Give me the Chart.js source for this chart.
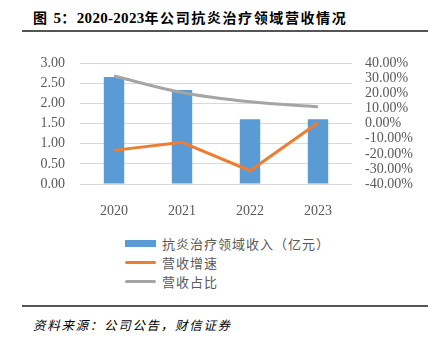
<!DOCTYPE html>
<html><head><meta charset="utf-8">
<script src="https://cdn.jsdelivr.net/npm/chart.js@4/dist/chart.umd.min.js"></script>
<style>
html,body{margin:0;padding:0;background:#fff;width:433px;height:341px;overflow:hidden;position:relative;font-family:"Noto Sans CJK SC",sans-serif;}
#title{position:absolute;left:33px;top:7px;font-size:14px;font-weight:bold;color:#000;white-space:nowrap;letter-spacing:1.6px;}
#title .num{font-family:"Liberation Serif",serif;font-size:15px;letter-spacing:0.3px;}
.rule{position:absolute;left:22px;width:406px;height:2px;background:#555;}
#wrap{position:absolute;left:0;top:40px;width:433px;height:175px;}
#legend{position:absolute;left:125px;top:234px;color:#595959;font-size:13px;letter-spacing:1px;}
.row{height:19px;display:flex;align-items:center;}
.sw{width:31px;margin-right:6px;}
#src{position:absolute;left:33px;top:315px;font-size:12.5px;font-style:italic;color:#000;letter-spacing:1.7px;}
</style></head><body>
<div id="title">图 <span class="num">5</span>：<span class="num">2020-2023</span>年公司抗炎治疗领域营收情况</div>
<div class="rule" style="top:30px"></div>
<div id="wrap"><canvas id="c" width="433" height="175"></canvas></div>
<div id="legend"></div>
<div class="rule" style="top:305px"></div>
<div id="src">资料来源：公司公告，财信证券</div>
<script>
const categories = ['2020','2021','2022','2023'];
const revenue = [2.66, 2.34, 1.61, 1.61];
const growth = [-17.7, -12.3, -31.2, 0.6];
const share = [31.6, 20.7, 14.5, 11.2];
const seriesNames = ['抗炎治疗领域收入（亿元）','营收增速','营收占比'];
const colors = ['#5B9BD5','#ED7D31','#A5A5A5'];

const tickFont = {family:'"Liberation Serif", serif', size:14};
new Chart(document.getElementById('c'), {
  data: {
    labels: categories,
    datasets: [
      {type:'line', label:seriesNames[1], data:growth, yAxisID:'y1', borderColor:colors[1], borderWidth:3, pointRadius:0, tension:0, order:1},
      {type:'line', label:seriesNames[2], data:share, yAxisID:'y1', borderColor:colors[2], borderWidth:3, pointRadius:0, tension:0.35, order:2},
      {type:'bar', label:seriesNames[0], data:revenue, yAxisID:'y', backgroundColor:colors[0], categoryPercentage:1, barPercentage:0.3, order:3}
    ]
  },
  options: {
    responsive:false, animation:false,
    layout:{padding:{top:10,left:0,right:0,bottom:0}},
    plugins:{legend:{display:false}, tooltip:{enabled:false}},
    scales:{
      x:{grid:{display:false}, border:{display:false}, ticks:{font:tickFont,color:'#595959',padding:11},
         afterFit(s){s.height=31;}},
      y:{position:'left', min:0, max:3, ticks:{stepSize:0.5, autoSkip:false, font:tickFont, color:'#595959', padding:15, callback:v=>v.toFixed(2)},
         grid:{color:'#D9D9D9', drawTicks:false, lineWidth:1}, border:{display:false},
         afterFit(s){s.width=80;}},
      y1:{position:'right', min:-40, max:40, ticks:{stepSize:10, autoSkip:false, font:tickFont, color:'#595959', padding:13, callback:v=>v.toFixed(2)+'%'},
         grid:{display:false, drawTicks:false}, border:{display:false},
         afterFit(s){s.width=81;}}
    }
  }
});

const lg = document.getElementById('legend');
[[0,'bar'],[1,'line'],[2,'line']].forEach(([i,t])=>{
  const r=document.createElement('div'); r.className='row';
  const sw=document.createElement('div'); sw.className='sw';
  sw.style.background=colors[i];
  sw.style.height = t==='bar' ? '7px' : '3px';
  if(t==='line') sw.style.borderRadius='2px';
  const tx=document.createElement('span'); tx.textContent=seriesNames[i];
  r.appendChild(sw); r.appendChild(tx); lg.appendChild(r);
});
</script>
</body></html>
